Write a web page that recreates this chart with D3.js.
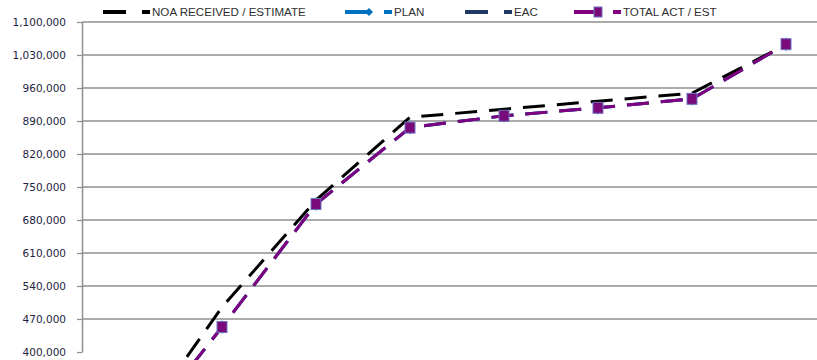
<!DOCTYPE html>
<html>
<head>
<meta charset="utf-8">
<script src="https://cdn.jsdelivr.net/npm/d3@7"></script>
<style>
  html, body { margin: 0; padding: 0; background: #fff; }
  svg { display: block; }
</style>
</head>
<body>
<svg id="chart" width="817" height="360"></svg>
<script>
// Reporting periods along the horizontal axis (no labels are shown on this axis)
const periods = ["P1", "P2", "P3", "P4", "P5", "P6", "P7", "P8"];

// Cumulative amounts per period
const noaReceived = [213000, 495000, 722000, 898000, 915000, 932000, 949000, 1052000];
const plan        = [200000, 453000, 714000, 876000, 901000, 918000, 937000, 1053000];
const eac         = [200000, 453000, 714000, 876000, 901000, 918000, 937000, 1053000];
const totalActEst = [200000, 453000, 714000, 876000, 901000, 918000, 937000, 1053000];

// Value axis ticks
const yTicks = [400000, 470000, 540000, 610000, 680000, 750000, 820000, 890000, 960000, 1030000, 1100000];

const svg = d3.select("#chart");

const x = d3.scalePoint().domain(periods).range([128, 786]);
const y = d3.scaleLinear().domain([400000, 1100000]).range([352, 22]);

const fmt = d3.format(",");

// Horizontal gridlines (the 400,000 level is the category axis position, left bare)
svg.append("g")
  .selectAll("line")
  .data(yTicks.filter(t => t > 400000))
  .join("line")
  .attr("x1", 82).attr("x2", 817)
  .attr("y1", d => y(d)).attr("y2", d => y(d))
  .attr("stroke", "#8f8f8f")
  .attr("stroke-width", 1.5);

// Value axis
const yAxis = d3.axisLeft(y)
  .tickValues(yTicks)
  .tickFormat(fmt)
  .tickSizeInner(5)
  .tickSizeOuter(0)
  .tickPadding(11);

const axisG = svg.append("g")
  .attr("transform", "translate(82,0)")
  .call(yAxis);
axisG.select(".domain").attr("stroke", "#8f8f8f").attr("stroke-width", 1.5);
axisG.selectAll(".tick line").attr("stroke", "#8f8f8f").attr("stroke-width", 1.2);
axisG.selectAll(".tick text")
  .attr("fill", "#1f2440")
  .style("font-family", "'DejaVu Sans', sans-serif")
  .style("font-size", "10.5px");

// Series lines
const line = d3.line()
  .x((d, i) => x(periods[i]))
  .y(d => y(d));

const series = [
  { name: "EAC", values: eac, color: "#1f3864", dash: "22,12", marker: null },
  { name: "PLAN", values: plan, color: "#0070c0", dash: "22,12", marker: "diamond" },
  { name: "NOA RECEIVED / ESTIMATE", values: noaReceived, color: "#000000", dash: "22,12", marker: null },
  { name: "TOTAL ACT / EST", values: totalActEst, color: "#800080", dash: "22,12", marker: "square" }
];

series.forEach(s => {
  svg.append("path")
    .datum(s.values)
    .attr("d", line)
    .attr("fill", "none")
    .attr("stroke", s.color)
    .attr("stroke-width", 3)
    .attr("stroke-dasharray", s.dash);

  if (s.marker === "diamond") {
    svg.append("g").selectAll("path")
      .data(s.values)
      .join("path")
      .attr("transform", (d, i) => `translate(${x(periods[i])},${y(d)})`)
      .attr("d", "M0,-7L4,0L0,7L-4,0Z")
      .attr("fill", s.color);
  }
  if (s.marker === "square") {
    svg.append("g").selectAll("rect")
      .data(s.values)
      .join("rect")
      .attr("x", (d, i) => x(periods[i]) - 5)
      .attr("y", d => y(d) - 5.5)
      .attr("width", 10)
      .attr("height", 11)
      .attr("fill", "#7a0a7a")
      .attr("stroke", "#6f74c0")
      .attr("stroke-width", 1);
  }
});

// Legend
const legendItems = [
  { name: "NOA RECEIVED / ESTIMATE", color: "#000000", x0: 103, marker: null },
  { name: "PLAN", color: "#0070c0", x0: 345, marker: "diamond" },
  { name: "EAC", color: "#1f3864", x0: 465, marker: null },
  { name: "TOTAL ACT / EST", color: "#800080", x0: 574, marker: "square" }
];

const lg = svg.append("g");
legendItems.forEach(it => {
  const g = lg.append("g").attr("transform", `translate(${it.x0},12)`);
  g.append("rect").attr("x", 0).attr("y", -2).attr("width", 23).attr("height", 4).attr("fill", it.color);
  if (it.marker === "diamond") {
    g.append("path").attr("d", "M24,-4L28,0L24,4L20,0Z").attr("fill", it.color);
  }
  if (it.marker === "square") {
    g.append("rect").attr("x", 20).attr("y", -5).attr("width", 8).attr("height", 10)
      .attr("fill", "#7a0a7a").attr("stroke", "#6f74c0").attr("stroke-width", 1);
  }
  g.append("rect").attr("x", 39).attr("y", -2).attr("width", 8).attr("height", 4).attr("fill", it.color);
  g.append("text")
    .attr("x", 49).attr("y", 0)
    .attr("dy", "0.35em")
    .attr("fill", "#2e2e2e")
    .style("font-family", "'Liberation Sans', Arial, sans-serif")
    .style("font-size", "11.6px")
    .text(it.name);
});
</script>
</body>
</html>
